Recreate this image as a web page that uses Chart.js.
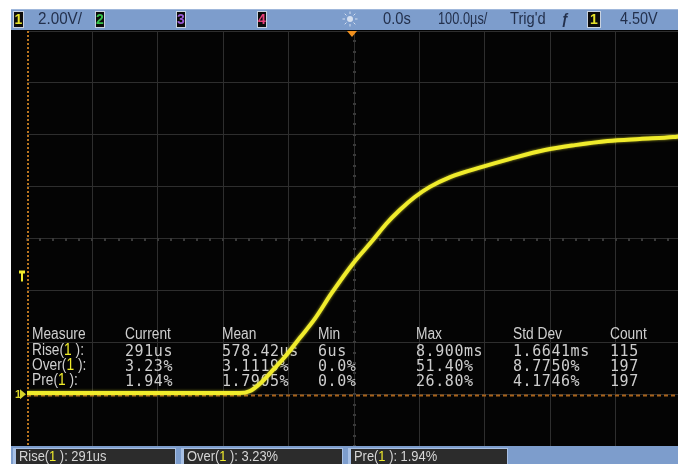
<!DOCTYPE html>
<html>
<head>
<meta charset="utf-8">
<script src="https://cdn.jsdelivr.net/npm/chart.js@4.4.1/dist/chart.umd.min.js"></script>
<style>
  html, body { margin: 0; padding: 0; background: #ffffff; }
  canvas { display: block; }
</style>
</head>
<body>
<canvas id="scope" width="681" height="464"></canvas>
<script>
// Channel 1 step response, 100 us/div, 2 V/div
const timeUs = [-500, -175, -159, -141, -121, -102, -83, -60, -34, -2, 29, 49, 70, 93, 116, 147, 196, 239, 292, 338, 388, 437, 488, 500];
const ch1Volts = [0.04, 0.04, 0.12, 0.47, 1.01, 1.55, 2.16, 2.90, 3.90, 5.02, 5.94, 6.56, 7.10, 7.60, 7.99, 8.37, 8.76, 9.07, 9.41, 9.60, 9.76, 9.84, 9.91, 9.95];

// Measurement table
const measureHeaders = ['Measure', 'Current', 'Mean', 'Min', 'Max', 'Std Dev', 'Count'];
const measureNames = ['Rise', 'Over', 'Pre'];
const currentVals = ['291us', '3.23%', '1.94%'];
const meanVals = ['578.42us', '3.1119%', '1.7905%'];
const minVals = ['6us', '0.0%', '0.0%'];
const maxVals = ['8.900ms', '51.40%', '26.80%'];
const stdDevVals = ['1.6641ms', '8.7750%', '4.1746%'];
const countVals = ['115', '197', '197'];

// Status bar readouts
const vScale = '2.00V/';
const hDelay = '0.0s';
const hScale = '100.0µs/';
const trigState = "Trig'd";
const trigLevel = '4.50V';
const trigLevelVolts = 4.5;

const SANS = '"Liberation Sans", Arial, sans-serif';
const MONO = '"DejaVu Sans Mono", monospace';
const YELLOW = '#f0ec2c';

// condensed text: draw squeezed horizontally by sx, return advance
function txt(ctx, str, x, y, sx) {
  ctx.save();
  ctx.translate(x, y);
  ctx.scale(sx, 1);
  ctx.fillText(str, 0, 0);
  ctx.restore();
  return ctx.measureText(str).width * sx;
}

function chBox(ctx, x, y, w, h, label, color) {
  ctx.fillStyle = '#0c0c0c';
  ctx.fillRect(x, y, w, h);
  ctx.strokeStyle = '#c8d2e0';
  ctx.lineWidth = 1;
  ctx.strokeRect(x + 0.5, y + 0.5, w - 1, h - 1);
  ctx.fillStyle = color;
  ctx.font = 'bold 14px ' + SANS;
  ctx.textAlign = 'center';
  ctx.textBaseline = 'middle';
  ctx.fillText(label, x + w / 2, y + h / 2 + 1);
  ctx.textAlign = 'left';
}

function monoText(ctx, str, x, y, adv) {
  for (let i = 0; i < str.length; i++) ctx.fillText(str[i], x + i * adv, y);
}

function srcLabel(ctx, name, x, y, font, color, sx) {
  ctx.font = font;
  ctx.fillStyle = color;
  let cx = x + txt(ctx, name + '(', x, y, sx);
  ctx.fillStyle = YELLOW;
  cx += txt(ctx, '1', cx, y, sx);
  ctx.fillStyle = color;
  cx += txt(ctx, ' ):', cx, y, sx);
  return cx;
}

const scopeFrame = {
  id: 'scopeFrame',
  beforeDraw(chart) {
    const ctx = chart.ctx;
    ctx.save();
    ctx.fillStyle = '#ffffff';
    ctx.fillRect(0, 0, chart.width, chart.height);
    ctx.fillStyle = '#040404';
    ctx.fillRect(11, 30, chart.width - 11, 417);
    ctx.restore();
  },
  beforeDatasetsDraw(chart) {
    const ctx = chart.ctx;
    const xs = chart.scales.x, ys = chart.scales.y;
    const area = chart.chartArea;
    ctx.save();
    // minor tick marks on the centre axes
    ctx.fillStyle = '#3a3a3a';
    const cx = xs.getPixelForValue(0), cy = ys.getPixelForValue(6);
    for (let t = -500; t <= 500; t += 20) {
      const px = xs.getPixelForValue(t);
      ctx.fillRect(Math.round(px) - 1, Math.round(cy) - 1, 2, 3);
    }
    for (let v = -2; v <= 14; v += 0.4) {
      const py = ys.getPixelForValue(v);
      ctx.fillRect(Math.round(cx) - 1, Math.round(py) - 1, 3, 2);
    }
    // left reference line (orange, dashed)
    ctx.strokeStyle = '#b8741e';
    ctx.lineWidth = 2;
    ctx.setLineDash([2, 2]);
    ctx.beginPath();
    ctx.moveTo(area.left + 1, area.top);
    ctx.lineTo(area.left + 1, area.bottom);
    ctx.stroke();
    // measurement threshold line (orange, dashed)
    const ty = ys.getPixelForValue(-0.05);
    ctx.strokeStyle = '#a8621a';
    ctx.setLineDash([4, 3]);
    ctx.beginPath();
    ctx.moveTo(area.left, ty);
    ctx.lineTo(area.right, ty);
    ctx.stroke();
    ctx.setLineDash([]);

    // measurement table
    const cols = [32, 125, 222, 318, 416, 513, 610];
    const rows = [335, 351, 366, 381];
    const head = '16px ' + SANS;
    ctx.textBaseline = 'middle';
    ctx.textAlign = 'left';
    ctx.font = head;
    ctx.fillStyle = '#cfcfcf';
    measureHeaders.forEach((h, i) => txt(ctx, h, cols[i], rows[0], 0.86));
    const valueCols = [currentVals, meanVals, minVals, maxVals, stdDevVals, countVals];
    measureNames.forEach((n, r) => {
      srcLabel(ctx, n, cols[0], rows[r + 1], head, '#cfcfcf', 0.86);
      ctx.font = '15px ' + MONO;
      ctx.fillStyle = '#cdcdcd';
      valueCols.forEach((vals, c) => monoText(ctx, vals[r], cols[c + 1], rows[r + 1] + 1, 9.6));
    });

    // left-edge markers: trigger level and channel 1 ground
    const ly = ys.getPixelForValue(trigLevelVolts);
    ctx.fillStyle = YELLOW;
    ctx.beginPath();
    ctx.moveTo(19, ly - 7);
    ctx.lineTo(25, ly - 7);
    ctx.lineTo(25, ly - 4);
    ctx.lineTo(23, ly - 4);
    ctx.lineTo(23, ly + 4);
    ctx.lineTo(21, ly + 4);
    ctx.lineTo(21, ly - 4);
    ctx.lineTo(19, ly - 4);
    ctx.closePath();
    ctx.fill();
    const gy = ys.getPixelForValue(0);
    ctx.fillStyle = '#d8d42a';
    ctx.font = 'bold 11px ' + SANS;
    ctx.fillText('1', 15, gy + 1);
    ctx.beginPath();
    ctx.moveTo(20, gy - 5);
    ctx.lineTo(26, gy);
    ctx.lineTo(20, gy + 5);
    ctx.closePath();
    ctx.fill();
    ctx.restore();
  },
  beforeDatasetDraw(chart) {
    const ctx = chart.ctx;
    ctx.save();
    ctx.shadowColor = 'rgba(240, 236, 44, 0.7)';
    ctx.shadowBlur = 3;
  },
  afterDatasetDraw(chart) {
    chart.ctx.restore();
  },
  afterDraw(chart) {
    const ctx = chart.ctx;
    const xs = chart.scales.x;
    ctx.save();
    ctx.textBaseline = 'middle';
    ctx.textAlign = 'left';

    // top status bar
    ctx.fillStyle = '#7d9dcc';
    ctx.fillRect(11, 9, chart.width - 11, 21);
    ctx.fillStyle = '#9fb7db';
    ctx.fillRect(11, 9, chart.width - 11, 1);
    chBox(ctx, 13, 11, 11, 17, '1', '#e6e22a');
    chBox(ctx, 95, 11, 10, 17, '2', '#36c24a');
    chBox(ctx, 176, 11, 10, 17, '3', '#9a5ad8');
    chBox(ctx, 257, 11, 10, 17, '4', '#e8407a');
    chBox(ctx, 587, 11, 14, 17, '1', '#e6e22a');
    ctx.fillStyle = '#23304c';
    ctx.font = '16px ' + SANS;
    txt(ctx, vScale, 38, 20, 0.95);
    txt(ctx, hDelay, 383, 20, 0.92);
    txt(ctx, hScale, 438, 20, 0.8);
    txt(ctx, trigState, 510, 20, 0.92);
    txt(ctx, trigLevel, 620, 20, 0.9);
    ctx.font = 'italic bold 14px ' + SANS;
    ctx.fillText('ƒ', 561, 20);
    // acquisition indicator
    ctx.strokeStyle = '#d6e0f0';
    ctx.fillStyle = '#d6e0f0';
    ctx.lineWidth = 1;
    ctx.beginPath();
    ctx.arc(350, 19, 3, 0, Math.PI * 2);
    ctx.fill();
    for (let k = 0; k < 8; k++) {
      const a = k * Math.PI / 4;
      ctx.beginPath();
      ctx.moveTo(350 + Math.cos(a) * 5, 19 + Math.sin(a) * 5);
      ctx.lineTo(350 + Math.cos(a) * 7.5, 19 + Math.sin(a) * 7.5);
      ctx.stroke();
    }
    // trigger position marker
    const tx = xs.getPixelForValue(0) - 2;
    ctx.fillStyle = '#f0901e';
    ctx.beginPath();
    ctx.moveTo(tx - 5, 31);
    ctx.lineTo(tx + 5, 31);
    ctx.lineTo(tx, 37);
    ctx.closePath();
    ctx.fill();

    // bottom measurement bar
    ctx.fillStyle = '#7d9dcc';
    ctx.fillRect(11, 446, chart.width - 11, 18);
    const boxes = [[13, 163, measureNames[0], currentVals[0]],
                   [181, 162, measureNames[1], currentVals[1]],
                   [348, 160, measureNames[2], currentVals[2]]];
    boxes.forEach(([bx, bw, n, v]) => {
      ctx.fillStyle = '#a8c0e4';
      ctx.fillRect(bx, 448, bw, 16);
      ctx.fillStyle = '#2c2c2c';
      ctx.fillRect(bx + 3, 449, bw - 4, 15);
      const end = srcLabel(ctx, n, bx + 6, 457, '15px ' + SANS, '#d6d6d6', 0.86);
      ctx.fillStyle = '#d6d6d6';
      txt(ctx, ' ' + v, end, 457, 0.86);
    });

    // right edge of the screen
    ctx.fillStyle = '#ffffff';
    ctx.fillRect(678, 0, 3, chart.height);
    ctx.restore();
  }
};

new Chart(document.getElementById('scope'), {
  type: 'line',
  data: {
    datasets: [{
      label: 'Channel 1',
      data: timeUs.map((t, i) => ({ x: t, y: ch1Volts[i] })),
      borderColor: YELLOW,
      borderWidth: 4,
      pointRadius: 0,
      cubicInterpolationMode: 'monotone',
      fill: false
    }]
  },
  options: {
    responsive: false,
    animation: false,
    devicePixelRatio: 1,
    layout: { padding: { left: 27, top: 31, right: 0, bottom: 18 } },
    plugins: { legend: { display: false }, tooltip: { enabled: false } },
    scales: {
      x: {
        type: 'linear', min: -500, max: 500,
        ticks: { display: false, stepSize: 100 },
        border: { display: false },
        grid: { drawTicks: false, color: ctx => ctx.tick && ctx.tick.value === -500 ? 'rgba(0,0,0,0)' : '#2e2e2e', lineWidth: 1 },
        afterFit: s => { s.height = 0; }
      },
      y: {
        type: 'linear', min: -2, max: 14,
        ticks: { display: false, stepSize: 2 },
        border: { display: false },
        grid: { drawTicks: false, color: '#2e2e2e', lineWidth: 1 },
        afterFit: s => { s.width = 0; }
      }
    }
  },
  plugins: [scopeFrame]
});
</script>
</body>
</html>
